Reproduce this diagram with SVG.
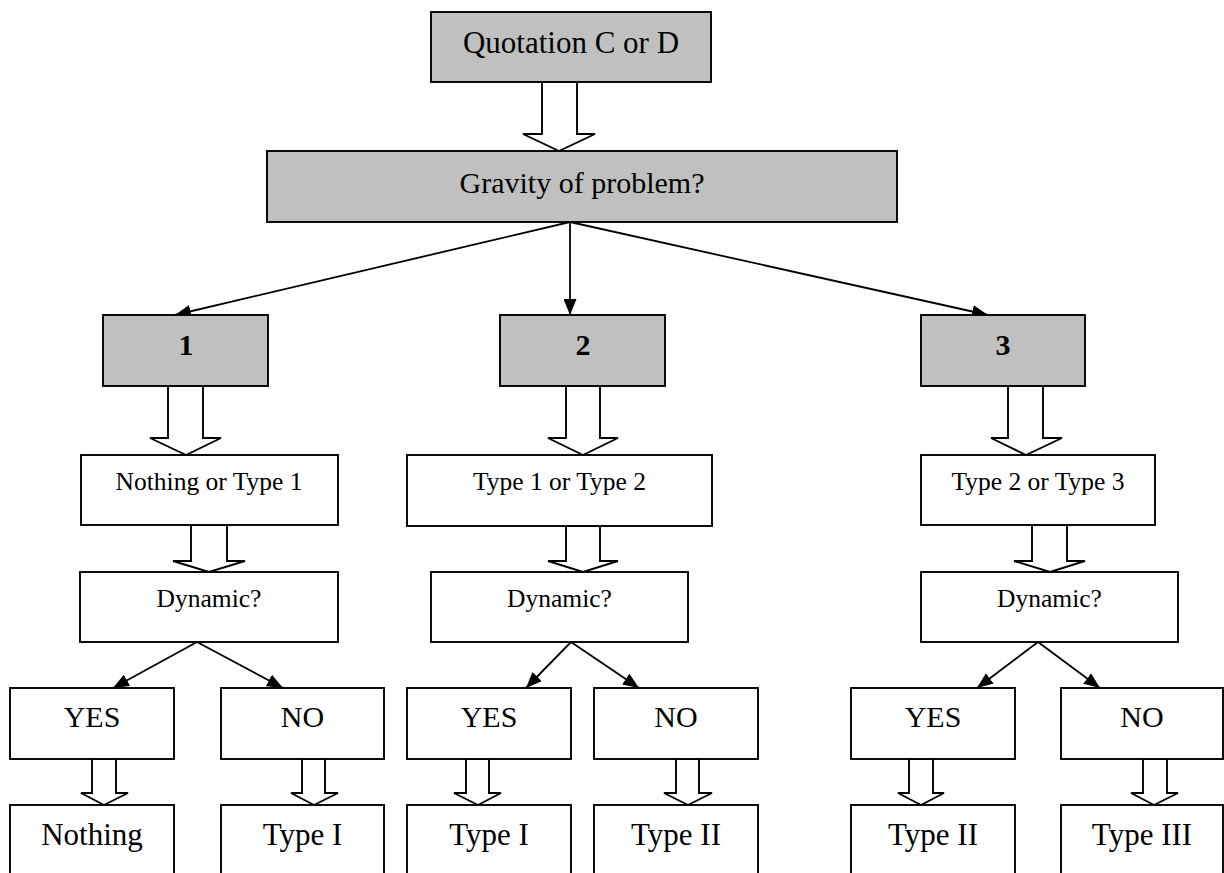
<svg xmlns="http://www.w3.org/2000/svg" width="1224" height="873" viewBox="0 0 1224 873">
<style>
.g{fill:#c0c0c0;stroke:#000;stroke-width:1.9}
.w{fill:#fff;stroke:#000;stroke-width:1.9}
.ba{fill:#fff;stroke:#000;stroke-width:1.9;stroke-linejoin:miter}
.c{fill:none;stroke:#000;stroke-width:1.8}
text{font-family:"Liberation Serif","Times New Roman",serif;fill:#000;text-anchor:middle}
.t31{font-size:31px}
.t30{font-size:30px}
.t25{font-size:25.5px}
.b{font-size:30px;font-weight:bold}
</style>
<defs>
<marker id="ah" markerUnits="userSpaceOnUse" markerWidth="17" markerHeight="13" refX="16" refY="6.5" orient="auto">
<path d="M0,0 L16,6.5 L0,13 z" fill="#000"/>
</marker>
</defs>
<rect width="1224" height="873" fill="#fff"/>

<g id="connectors">
<polygon class="ba" points="542,82 542,134 523,134 559,151 595,134 577,134 577,82"/>
<line class="c" x1="570" y1="222" x2="175" y2="315" marker-end="url(#ah)"/>
<line class="c" x1="570" y1="222" x2="570" y2="315" marker-end="url(#ah)"/>
<line class="c" x1="570" y1="222" x2="988" y2="315" marker-end="url(#ah)"/>
<polygon class="ba" points="168,386 168,438 150,438 186,455 221,438 203,438 203,386"/>
<polygon class="ba" points="191,525 191,561 173,561 209,572 245,561 227,561 227,525"/>
<polygon class="ba" points="566,386 566,438 548,438 583,455 618,438 600,438 600,386"/>
<polygon class="ba" points="566,526 566,561 548,561 583,572 618,561 600,561 600,526"/>
<polygon class="ba" points="1008,386 1008,438 991,438 1026,455 1062,438 1043,438 1043,386"/>
<polygon class="ba" points="1032,525 1032,561 1014,561 1050,572 1085,561 1067,561 1067,525"/>
<line class="c" x1="197" y1="642" x2="113" y2="688" marker-end="url(#ah)"/>
<line class="c" x1="197" y1="642" x2="283" y2="688" marker-end="url(#ah)"/>
<line class="c" x1="571" y1="642" x2="526" y2="688" marker-end="url(#ah)"/>
<line class="c" x1="571" y1="642" x2="639" y2="688" marker-end="url(#ah)"/>
<line class="c" x1="1038" y1="642" x2="977" y2="688" marker-end="url(#ah)"/>
<line class="c" x1="1038" y1="642" x2="1100" y2="688" marker-end="url(#ah)"/>
<polygon class="ba" points="92,759 92,793 81,793 104,805 128,793 116,793 116,759"/>
<polygon class="ba" points="302,759 302,793 291,793 314,805 338,793 325,793 325,759"/>
<polygon class="ba" points="466,759 466,793 454,793 478,805 501,793 489,793 489,759"/>
<polygon class="ba" points="676,759 676,793 664,793 688,805 712,793 699,793 699,759"/>
<polygon class="ba" points="909,759 909,793 898,793 921,805 944,793 933,793 933,759"/>
<polygon class="ba" points="1143,759 1143,793 1131,793 1154,805 1178,793 1167,793 1167,759"/>
</g>

<g id="n-quotation"><rect class="g" x="431" y="12" width="280" height="70"/><text class="t31" x="571" y="53">Quotation C or D</text></g>
<g id="n-gravity"><rect class="g" x="267" y="151" width="630" height="71"/><text class="t30" x="582" y="193">Gravity of problem?</text></g>

<g id="n-1"><rect class="g" x="103" y="315" width="165" height="71"/><text class="b" x="186" y="355">1</text></g>
<g id="n-2"><rect class="g" x="500" y="315" width="165" height="71"/><text class="b" x="583" y="355">2</text></g>
<g id="n-3"><rect class="g" x="921" y="315" width="164" height="71"/><text class="b" x="1003" y="355">3</text></g>

<g id="n-opt1"><rect class="w" x="81" y="455" width="257" height="70"/><text class="t25" x="209" y="490">Nothing or Type 1</text></g>
<g id="n-opt2"><rect class="w" x="407" y="455" width="305" height="71"/><text class="t25" x="559.5" y="490">Type 1 or Type 2</text></g>
<g id="n-opt3"><rect class="w" x="921" y="455" width="234" height="70"/><text class="t25" x="1038" y="490">Type 2 or Type 3</text></g>

<g id="n-dyn1"><rect class="w" x="80" y="572" width="258" height="70"/><text class="t25" x="209" y="607">Dynamic?</text></g>
<g id="n-dyn2"><rect class="w" x="431" y="572" width="257" height="70"/><text class="t25" x="559.5" y="607">Dynamic?</text></g>
<g id="n-dyn3"><rect class="w" x="921" y="572" width="257" height="70"/><text class="t25" x="1049.5" y="607">Dynamic?</text></g>

<g id="n-yes1"><rect class="w" x="10" y="688" width="164" height="71"/><text class="t30" x="92" y="727">YES</text></g>
<g id="n-no1"><rect class="w" x="221" y="688" width="163" height="71"/><text class="t30" x="302.5" y="727">NO</text></g>
<g id="n-yes2"><rect class="w" x="407" y="688" width="164" height="71"/><text class="t30" x="489" y="727">YES</text></g>
<g id="n-no2"><rect class="w" x="594" y="688" width="164" height="71"/><text class="t30" x="676" y="727">NO</text></g>
<g id="n-yes3"><rect class="w" x="851" y="688" width="164" height="71"/><text class="t30" x="933" y="727">YES</text></g>
<g id="n-no3"><rect class="w" x="1061" y="688" width="162" height="71"/><text class="t30" x="1142" y="727">NO</text></g>

<g id="n-res1"><rect class="w" x="10" y="805" width="164" height="100"/><text class="t31" x="92" y="845">Nothing</text></g>
<g id="n-res2"><rect class="w" x="221" y="805" width="163" height="100"/><text class="t31" x="302.5" y="845">Type I</text></g>
<g id="n-res3"><rect class="w" x="407" y="805" width="164" height="100"/><text class="t31" x="489" y="845">Type I</text></g>
<g id="n-res4"><rect class="w" x="594" y="805" width="164" height="100"/><text class="t31" x="676" y="845">Type II</text></g>
<g id="n-res5"><rect class="w" x="851" y="805" width="164" height="100"/><text class="t31" x="933" y="845">Type II</text></g>
<g id="n-res6"><rect class="w" x="1061" y="805" width="162" height="100"/><text class="t31" x="1142" y="845">Type III</text></g>
</svg>
